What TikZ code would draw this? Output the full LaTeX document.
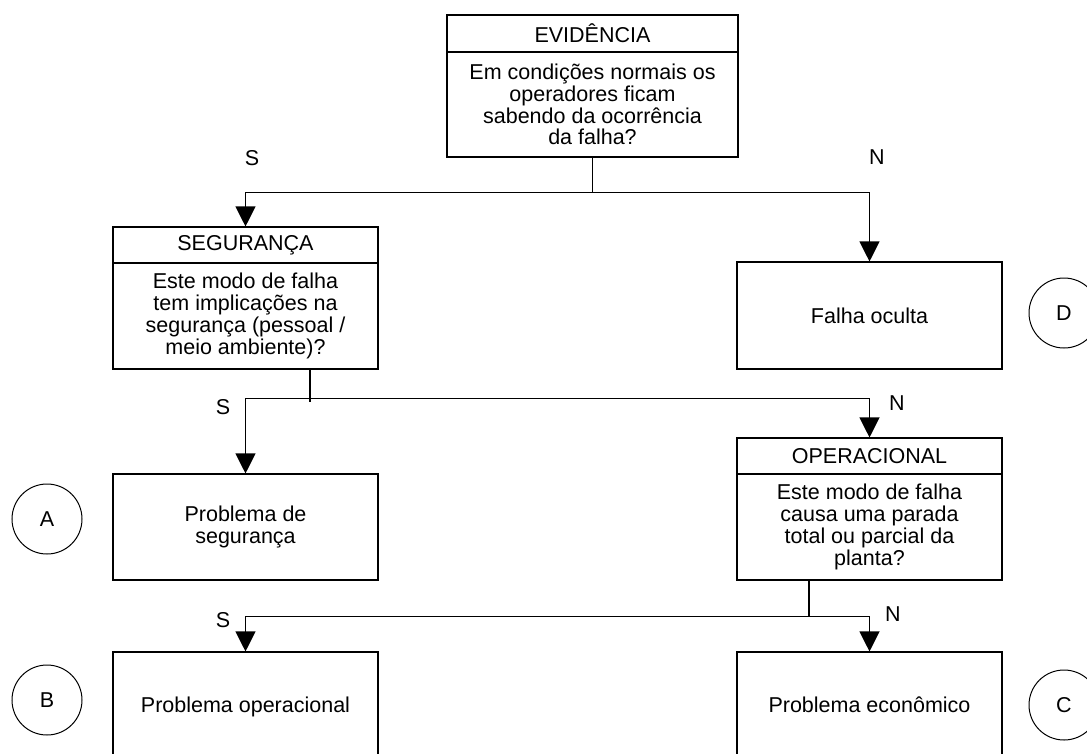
\documentclass[tikz,border=0pt]{standalone}
\usepackage{fontspec}
\setmainfont{Liberation Sans}
\usetikzlibrary{arrows.meta,calc}
\begin{document}
\begin{tikzpicture}[x=1pt,y=-1pt,
  font=\fontsize{21.5}{21.8}\selectfont,
  box/.style={draw,line width=1.1pt,minimum width=265pt,inner sep=0pt,align=center},
  head/.style={box,minimum height=36pt},
  body/.style={box,minimum height=106pt},
  oneline/.style={text depth=0pt},
  mark circle/.style={draw,circle,line width=1pt,minimum size=70pt,inner sep=0pt},
  link/.style={line width=1.1pt},
  arr/.style={link,-{Triangle[length=20pt,width=20pt]}},
  answer/.style={inner sep=0pt}
]
\clip (0,0) rectangle (1087,753);
\fill[white] (0,0) rectangle (1087,753);

% evidence question
\node[head,minimum width=291pt,minimum height=37pt] (evh) at (592.5,33.5) {EVIDÊNCIA};
\node[body,minimum width=291pt,minimum height=105pt] (evb) at (592.5,104.5)
  {Em condições normais os\\operadores ficam\\sabendo da ocorrência\\da falha?};

% safety question
\node[head] (segh) at (245.5,245) {SEGURANÇA};
\node[body] (segb) at (245.5,316)
  {Este modo de falha\\tem implicações na\\segurança (pessoal /\\meio ambiente)?};

% hidden failure
\node[body,minimum height=107pt] (falha) at (869.5,315.5) {Falha oculta};
\node[mark circle] (D) at (1064,313) {D};

% operational question
\node[head] (oph) at (869.5,456) {OPERACIONAL};
\node[body] (opb) at (869.5,527)
  {Este modo de falha\\causa uma parada\\total ou parcial da\\planta?};

% outcomes
\node[body] (probseg) at (245.5,527) {Problema de\\segurança};
\node[mark circle] (A) at (47,519) {A};

\node[body,oneline] (probop) at (245.5,705) {Problema operacional};
\node[mark circle] (B) at (47,700) {B};

\node[body,oneline] (probecon) at (869.5,705) {Problema econômico};
\node[mark circle] (C) at (1064,705) {C};

% branches from EVIDÊNCIA
\draw[link] (evb.south) -- ++(0,35) coordinate (j1);
\draw[arr] (j1) -| (segh.north);
\draw[arr] (j1) -| (falha.north);
\node[answer] (s1) at (252,158) {S};
\node[answer] (n1) at (877,157) {N};

% branches from SEGURANÇA
\draw[link] ([xshift=64.5pt]segb.south) -- ([xshift=64.5pt,yshift=-32pt]segb.south);
\coordinate (j2) at ([xshift=64.5pt,yshift=-29pt]segb.south);
\draw[arr] (j2) -| (probseg.north);
\draw[arr] (j2) -| (oph.north);
\node[answer] (s2) at (223,407) {S};
\node[answer] (n2) at (897,403) {N};

% branches from OPERACIONAL
\draw[link] ([xshift=-60.5pt]opb.south) -- ++(0,36) coordinate (j3);
\draw[arr] (j3) -| (probop.north);
\draw[arr] (j3) -| (probecon.north);
\node[answer] (s3) at (223,620) {S};
\node[answer] (n3) at (893,614) {N};
\end{tikzpicture}
\end{document}
